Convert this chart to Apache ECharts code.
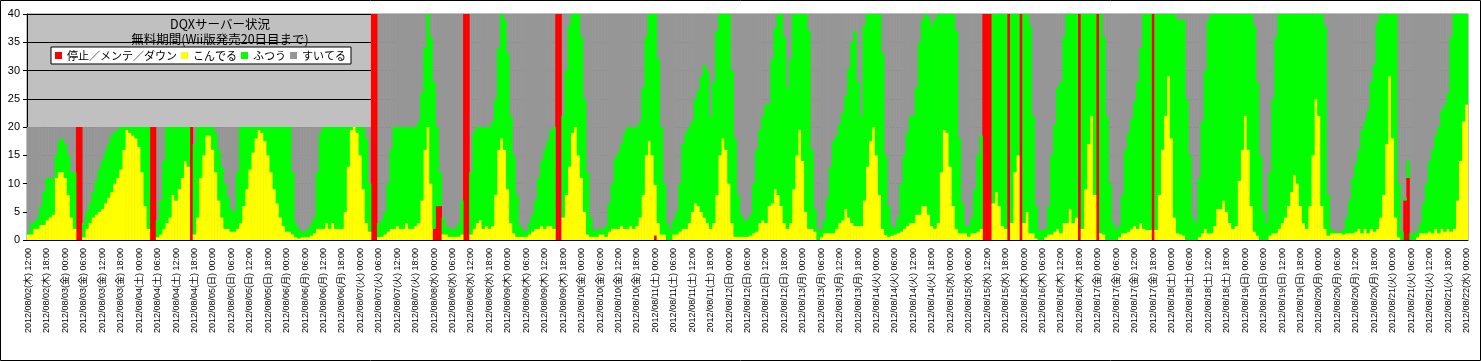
<!DOCTYPE html>
<html><head><meta charset="utf-8">
<script src="https://cdn.jsdelivr.net/npm/echarts@6/dist/echarts.min.js"></script>
<style>html,body{margin:0;padding:0;background:#fff;} #c{width:1481px;height:361px;}</style>
</head><body><div id="c"></div>
<script>
// x-axis tick labels (one every 6 hours)
const tickLabels = [
'2012/08/02(木) 12:00','2012/08/02(木) 18:00',
'2012/08/03(金) 00:00','2012/08/03(金) 06:00','2012/08/03(金) 12:00','2012/08/03(金) 18:00',
'2012/08/04(土) 00:00','2012/08/04(土) 06:00','2012/08/04(土) 12:00','2012/08/04(土) 18:00',
'2012/08/05(日) 00:00','2012/08/05(日) 06:00','2012/08/05(日) 12:00','2012/08/05(日) 18:00',
'2012/08/06(月) 00:00','2012/08/06(月) 06:00','2012/08/06(月) 12:00','2012/08/06(月) 18:00',
'2012/08/07(火) 00:00','2012/08/07(火) 06:00','2012/08/07(火) 12:00','2012/08/07(火) 18:00',
'2012/08/08(水) 00:00','2012/08/08(水) 06:00','2012/08/08(水) 12:00','2012/08/08(水) 18:00',
'2012/08/09(木) 00:00','2012/08/09(木) 06:00','2012/08/09(木) 12:00','2012/08/09(木) 18:00',
'2012/08/10(金) 00:00','2012/08/10(金) 06:00','2012/08/10(金) 12:00','2012/08/10(金) 18:00',
'2012/08/11(土) 00:00','2012/08/11(土) 06:00','2012/08/11(土) 12:00','2012/08/11(土) 18:00',
'2012/08/12(日) 00:00','2012/08/12(日) 06:00','2012/08/12(日) 12:00','2012/08/12(日) 18:00',
'2012/08/13(月) 00:00','2012/08/13(月) 06:00','2012/08/13(月) 12:00','2012/08/13(月) 18:00',
'2012/08/14(火) 00:00','2012/08/14(火) 06:00','2012/08/14(火) 12:00','2012/08/14(火) 18:00',
'2012/08/15(水) 00:00','2012/08/15(水) 06:00','2012/08/15(水) 12:00','2012/08/15(水) 18:00',
'2012/08/16(木) 00:00','2012/08/16(木) 06:00','2012/08/16(木) 12:00','2012/08/16(木) 18:00',
'2012/08/17(金) 00:00','2012/08/17(金) 06:00','2012/08/17(金) 12:00','2012/08/17(金) 18:00',
'2012/08/18(土) 00:00','2012/08/18(土) 06:00','2012/08/18(土) 12:00','2012/08/18(土) 18:00',
'2012/08/19(日) 00:00','2012/08/19(日) 06:00','2012/08/19(日) 12:00','2012/08/19(日) 18:00',
'2012/08/20(月) 00:00','2012/08/20(月) 06:00','2012/08/20(月) 12:00','2012/08/20(月) 18:00',
'2012/08/21(火) 00:00','2012/08/21(火) 06:00','2012/08/21(火) 12:00','2012/08/21(火) 18:00',
'2012/08/22(水) 00:00'
];

// hourly values from 2012/08/02 12:00 (index 0) to 2012/08/22 00:00 (index 468)
// こんでる (crowded servers)
const konderu = [
1,1,2,2,2.7,2.7,3.5,4,4.5,11,
12,12,11,8,4,2,0,0,0.5,2,
3,4,4.5,5,5.5,6.5,7.5,8.5,10,11,
12.5,16,19.5,19,18.5,18,16.5,12,6,2,
0,0,0.5,1,2,3,4,8,7,9,
11,14,13,0,1,4,11,15,18.5,18.5,
16,12,7,4,2,2,1.5,1.5,2,3,
6,9,12.5,15.5,18,19.5,19,17.5,15,12,
9,6.5,4,2.5,1.5,1.5,1,0.5,0.3,0.5,
0.5,0.5,0.8,1.2,2,2,2,3,2,3,
2,2,2,5,13,19.5,20,19,15,9,
3,1.5,0,0,0.5,0.6,1,1.5,2,2,
2.5,2,2,3,2,2,2.5,3,7,16,
20,10,0,0,0,1,1,0.6,0.6,0.6,
0.6,1,0,0,1,2,3,3.5,2,2.5,
2,2.5,8,16,18,16,9,3,1.2,0.6,
0.6,0.6,0.6,1,1.5,2,2,2.5,2,2.5,
2.5,2,0,0,4,8,13,19,20,15,
11,5,1,0.6,0.6,0.6,1,1,0.6,1.5,
2,2,2,2.5,2,2,2.5,2,2.5,4,
8,15,17.5,15,9,3,1,1,0,0,
1,1,1.5,2,2,3,5,6.5,6,5,
4,3,2,3,8,15,18,16,10,3,
0.6,0.6,0.6,0.6,0.6,0.8,1.2,1.5,3,3.5,
3,6,6.5,9,8,6,3,2,3,9,
15,19.5,14,5,2,2,1.5,0,0.5,1.2,
1.2,1.2,1.2,2,3,3.5,5.5,4,3,2.5,
2.5,2.5,7,13,17.5,20,15,8,2,0.9,
0.6,0.8,1,1.2,1.5,2,2.5,3,3,4.5,
4.5,6,6,4.5,2.5,2,3,12,19.5,19,
13,6,2,1.2,1.2,1.2,0.6,1.2,1.2,1.5,
2,0,0,0,6.5,8.5,6,2.5,2,0,
3,12,15,0,3,5,1.2,1.2,0.3,0,
0,0.5,1,1,1.5,2,1.2,3,3,5.5,
3,4,0,2,9,17,22,8,0,1.2,
1,0,0,0,0,0.5,1.2,1.2,1.5,2,
2.5,2,3,2,1.8,1.8,0,1.8,8,16,
22,29,18,4,1.2,1,0.8,0,0,0,
0,0.5,1.2,2,1.2,1.2,2.5,5.5,5.5,7,
5,3,2,2.5,10.5,16,22,16,6,1.5,
0.8,0,0,0,0.8,1.2,1.2,2,3,4,
6,8.5,11.5,10,6,3,2,6,15,25,
22,6,2,0.8,1.2,1.2,1.2,1.2,1,1.2,
1.2,1.2,1.5,2,1.2,2,1.2,2,1.5,2,
4,8,17,29,18,4,0.5,0,0,0,
0,0,0.5,1.2,1.2,1.2,1.5,1.2,2,1.2,
2,1.5,2,1.5,2,7,14,21,24
];
// ふつう (normal servers)
const futsuu = [
0.5,2,1.2,2,3.3,5.8,7.5,7,6.5,4,
5.5,6,6,7,8,10,0,0,2.5,3,
3.5,4.5,6,7.5,8.5,9,9.5,10,9,8.5,
7.5,4,0.5,1,1.5,2,3.5,8,14,18,
0,0,3,6,12,17,16,12,13,11,
9,6,7,0,16,16,9,5,1.5,1.5,
4,7,9,9,8,5.5,4,3.5,10,17,
14,11,7.5,4.5,2,0.5,1,2.5,5,8,
11,13.5,16,17.5,18.5,18.5,11,2.5,1.7,1,
1,1.5,2,2.8,10,17,18,17,18,17,
18,18,18,15,7,0.5,0,1,5,11,
15,8.5,0,0,2.5,2.9,4,8.5,14,18,
17.5,18,18,17,18,18,17.5,18,19,18,
20,26,26,14,6,3,1.5,1.4,1.4,1.4,
2.4,6,0,0,11,17,17,16.5,18,17.5,
18,18.5,17,18,22,23,24,19,13.8,7.4,
1.9,1.2,0.9,2,3,5,9,11.5,14,15,
17,18,0,0,18,22,25,21,20,25,
25,20,11,3.4,1.2,1.2,1,1,1.9,5,
8,12.5,13.5,14.5,17,18,17.5,18,17.5,17,
19,21,22.5,25,30.2,29,19,9,3,1.8,
2.5,4,8.5,15,17,17,16,18.5,20.5,24,
27,27,20,25,29,25,22,24,30,27,
17.4,7.4,3.9,2.9,2.9,3.7,8.8,14.5,16.5,18.5,
21,18,25.5,28.5,32,34,33,25,29,31,
25,20.5,26,35,35,14,4,2,1.3,2.3,
6.3,11.8,16.3,16.5,17.5,19,20,26.5,32,34.5,
25.5,19.5,31,27,22.5,20,25,32,31,14.1,
5.4,1.7,1.2,2.8,8.5,13,16.5,19,19,22.5,
30.5,33,34,35,35.5,37,37,28,20.5,21,
27,34,35,16.8,5.3,1.3,1.9,2.8,7.8,13.5,
16.5,0,0,0,33.5,31.5,34,37.5,38,0,
37,28,25,0,37,35,36.8,20.8,5.7,1.8,
1.8,1.5,5,14,19,25,26.8,33,37,34.5,
37,36,0,38,31,23,18,32,0,38.8,
35,22,10,3,1.8,2,6.8,14.8,17.5,19.5,
22,26,31,38,38.2,38.2,0,38.2,32,24,
18,11,22,36,37.8,38,38.2,25,15,4,
3,10.5,19.8,28,37.8,38.8,37.5,34.5,34.5,33,
35,37,38,37.5,29.5,24,18,24,34,36.5,
27.2,15,5,3,11.2,23.8,34.8,38,37,36,
34,31.5,28.5,30,34,37,38,34,25,15,
18,34,36,7.2,0.8,0.3,0.3,0.3,0.8,2.8,
5.8,9.8,12,14,18.3,19,21.8,26,29.5,36.5,
36,32,23,11,22,36,9.5,1.5,0.5,3,
1.2,1.2,1,1.8,5.3,8.8,12.5,14.8,16.5,18.8,
21,22.5,24,34.5,38,33,26,19,16
];
// 停止/メンテ/ダウン (servers down), by hour
const downtime = [
['2012/08/03 04:00',20],['2012/08/03 05:00',20],
['2012/08/04 04:00',20],['2012/08/04 05:00',20],
['2012/08/04 17:00',20],
['2012/08/07 04:00',40],['2012/08/07 05:00',40],
['2012/08/08 00:00',2],['2012/08/08 01:00',6],['2012/08/08 02:00',6],
['2012/08/08 10:00',40],['2012/08/08 11:00',40],
['2012/08/09 16:00',40],['2012/08/09 17:00',40],
['2012/08/11 00:00',0.8],
['2012/08/15 11:00',40],['2012/08/15 12:00',40],['2012/08/15 13:00',40],
['2012/08/15 19:00',40],['2012/08/15 23:00',40],
['2012/08/16 18:00',40],['2012/08/17 00:00',40],['2012/08/17 18:00',40],
['2012/08/21 04:00',7],['2012/08/21 05:00',11]
];
// total number of servers (すいてる = the rest up to this)
const capacityPeriods = [['2012/08/02 12:00',20],['2012/08/07 06:00',40]];

const START = Date.UTC(2012,7,2,12);
const pad = n => String(n).padStart(2,'0');
const categories = [];
for (let i = 0; i < konderu.length; i++) {
  const d = new Date(START + i*3600000);
  categories.push(d.getUTCFullYear()+'/'+pad(d.getUTCMonth()+1)+'/'+pad(d.getUTCDate())+' '+pad(d.getUTCHours())+':00');
}
const downMap = Object.fromEntries(downtime);
const teishi = categories.map(c => downMap[c] || 0);
const capacity = categories.map(c => { let v = 0; for (const [t, cap] of capacityPeriods) if (c >= t) v = cap; return v; });

const FONT_JP = '"Noto Sans CJK JP", sans-serif';
const chart = echarts.init(document.getElementById('c'), null, {renderer:'canvas', width:1481, height:361});
const common = {type:'bar', barWidth:3.5, barGap:'-100%', barCategoryGap:'0%', silent:true, emphasis:{disabled:true}};
const every6 = i => i % 6 === 0;
chart.setOption({
  animation:false,
  graphic:[{type:'rect', shape:{x:0.5,y:0.5,width:1480,height:360}, style:{fill:null, stroke:'#000', lineWidth:1}, silent:true}],
  grid:{left:27, top:14, width:1441, height:226, show:true, backgroundColor:'#c0c0c0', borderColor:'#808080', borderWidth:1},
  title:{text:'DQXサーバー状況\n無料期間(Wii版発売20日目まで)', left:215, top:12, textAlign:'center',
    textStyle:{fontFamily:FONT_JP, fontSize:12.5, fontWeight:'normal', color:'#000', lineHeight:15}},
  legend:{data:['停止／メンテ／ダウン','こんでる','ふつう','すいてる'], left:51, top:47, padding:[3,5,3,4],
    itemGap:4, itemWidth:7, itemHeight:7, icon:'rect', backgroundColor:'#fff', borderColor:'#000', borderWidth:1,
    borderRadius:0, selectedMode:false, textStyle:{fontFamily:FONT_JP, fontSize:11, color:'#000'}},
  xAxis:{type:'category', data:categories, boundaryGap:true,
    axisLine:{lineStyle:{color:'#000'}},
    axisTick:{interval:every6, length:4, lineStyle:{color:'#000'}},
    axisLabel:{interval:every6, formatter:(v,i)=>tickLabels[i/6], rotate:90, fontSize:9, padding:[4,0,0,0],
      fontFamily:'"Liberation Sans","Noto Sans CJK JP",sans-serif', color:'#000', margin:8}},
  yAxis:{type:'value', min:0, max:40, interval:5,
    axisLine:{show:true, lineStyle:{color:'#000'}},
    axisTick:{show:true, length:4, lineStyle:{color:'#000'}},
    axisLabel:{fontSize:11, fontFamily:'"Liberation Sans",sans-serif', color:'#000', margin:7},
    splitLine:{lineStyle:{color:'#000', width:1}}},
  series:[
    Object.assign({}, common, {name:'すいてる', stack:'bg', data:capacity, itemStyle:{color:'#969696'}}),
    Object.assign({}, common, {name:'停止／メンテ／ダウン', stack:'st', data:teishi, itemStyle:{color:'#ff0000'}}),
    Object.assign({}, common, {name:'こんでる', stack:'st', data:konderu, itemStyle:{color:'#ffff00'}}),
    Object.assign({}, common, {name:'ふつう', stack:'st', data:futsuu, itemStyle:{color:'#00ff00'}})
  ]
});
</script></body></html>
